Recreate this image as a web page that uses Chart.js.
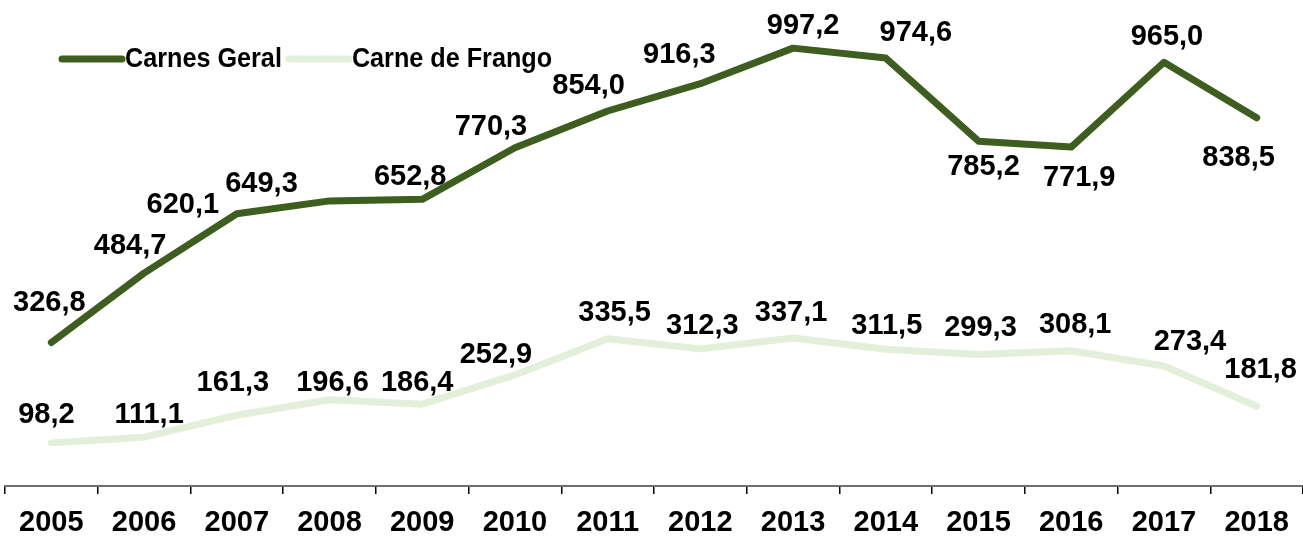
<!DOCTYPE html>
<html>
<head>
<meta charset="utf-8">
<script src="https://cdn.jsdelivr.net/npm/chart.js@4/dist/chart.umd.min.js"></script>
<style>
  html, body { margin: 0; padding: 0; background: #fff; }
  #wrap { width: 1303px; height: 536px; position: relative; }
</style>
</head>
<body>
<div id="wrap"><canvas id="c"></canvas></div>
<script>
const categories = ['2005','2006','2007','2008','2009','2010','2011','2012','2013','2014','2015','2016','2017','2018'];
const carnesGeral = [326.8, 484.7, 620.1, 649.3, 652.8, 770.3, 854.0, 916.3, 997.2, 974.6, 785.2, 771.9, 965.0, 838.5];
const carneFrango = [98.2, 111.1, 161.3, 196.6, 186.4, 252.9, 335.5, 312.3, 337.1, 311.5, 299.3, 308.1, 273.4, 181.8];
const seriesNames = ['Carnes Geral', 'Carne de Frango'];

// label offsets (pixels) relative to each point
const labelOffsets = [
  [[-2,-40],[-14,-27],[-54,-9],[-68,-17],[-12,-22],[-24,-21],[-19,-25],[-21,-29],[10,-22],[30,-25],[5,26],[8,31],[3,-25],[-18,40]],
  [[-5,-28],[5,-22],[-4,-32],[3,-17],[-5,-21],[-19,-20],[7,-26],[2,-23],[-2,-25],[1,-23],[2,-27],[4,-26],[26,-24],[4,-36]]
];

const fmt = v => v.toFixed(1).replace('.', ',');
const FONT = '"Liberation Sans", Arial, sans-serif';

const labelPlugin = {
  id: 'valueLabels',
  afterDatasetsDraw(chart) {
    const ctx = chart.ctx;
    ctx.save();
    ctx.font = 'bold 29px ' + FONT;
    ctx.fillStyle = '#000';
    ctx.textAlign = 'center';
    ctx.textBaseline = 'middle';
    chart.data.datasets.forEach((ds, di) => {
      const meta = chart.getDatasetMeta(di);
      meta.data.forEach((pt, i) => {
        const off = labelOffsets[di][i];
        ctx.fillText(fmt(ds.data[i]), pt.x + off[0], pt.y + off[1]);
      });
    });
    ctx.restore();
  }
};

const legendPlugin = {
  id: 'customLegend',
  afterDraw(chart) {
    const ctx = chart.ctx;
    ctx.save();
    ctx.font = 'bold 28px ' + FONT;
    ctx.textBaseline = 'middle';
    ctx.textAlign = 'left';
    const y = 59;
    const sx = 0.9;
    let x = 62;
    chart.data.datasets.forEach((ds) => {
      ctx.strokeStyle = ds.borderColor;
      ctx.lineWidth = 7;
      ctx.lineCap = 'round';
      ctx.beginPath();
      ctx.moveTo(x, y);
      ctx.lineTo(x + 60, y);
      ctx.stroke();
      ctx.fillStyle = '#000';
      ctx.save();
      ctx.translate(x + 63, y);
      ctx.scale(sx, 1);
      ctx.fillText(ds.label, 0, 0);
      ctx.restore();
      x += 63 + ctx.measureText(ds.label).width * sx + 7;
    });
    ctx.restore();
  }
};

new Chart(document.getElementById('c'), {
  type: 'line',
  data: {
    labels: categories,
    datasets: [
      { label: seriesNames[0], data: carnesGeral, borderColor: '#3e5e1f', backgroundColor: '#3e5e1f', borderWidth: 7, pointRadius: 0, tension: 0, borderCapStyle: 'round', borderJoinStyle: 'round' },
      { label: seriesNames[1], data: carneFrango, borderColor: '#e2efd9', backgroundColor: '#e2efd9', borderWidth: 7, pointRadius: 0, tension: 0, borderCapStyle: 'round', borderJoinStyle: 'round' }
    ]
  },
  options: {
    responsive: true,
    maintainAspectRatio: false,
    animation: false,
    layout: { padding: { top: 3, left: 5, right: 0, bottom: 0 } },
    plugins: { legend: { display: false }, tooltip: { enabled: false } },
    scales: {
      x: {
        offset: true,
        afterFit(scale) { scale.height = 50; },
        grid: { display: true, offset: true, drawOnChartArea: false, drawTicks: true, tickLength: 8, color: '#000', lineWidth: 1.5 },
        border: { display: true, color: '#6f6f6f', width: 2 },
        ticks: { color: '#000', font: { family: FONT, size: 29, weight: 'bold' }, padding: 12, maxRotation: 0, autoSkip: false }
      },
      y: { display: false, min: 0, max: 1100 }
    }
  },
  plugins: [labelPlugin, legendPlugin]
});
</script>
</body>
</html>
